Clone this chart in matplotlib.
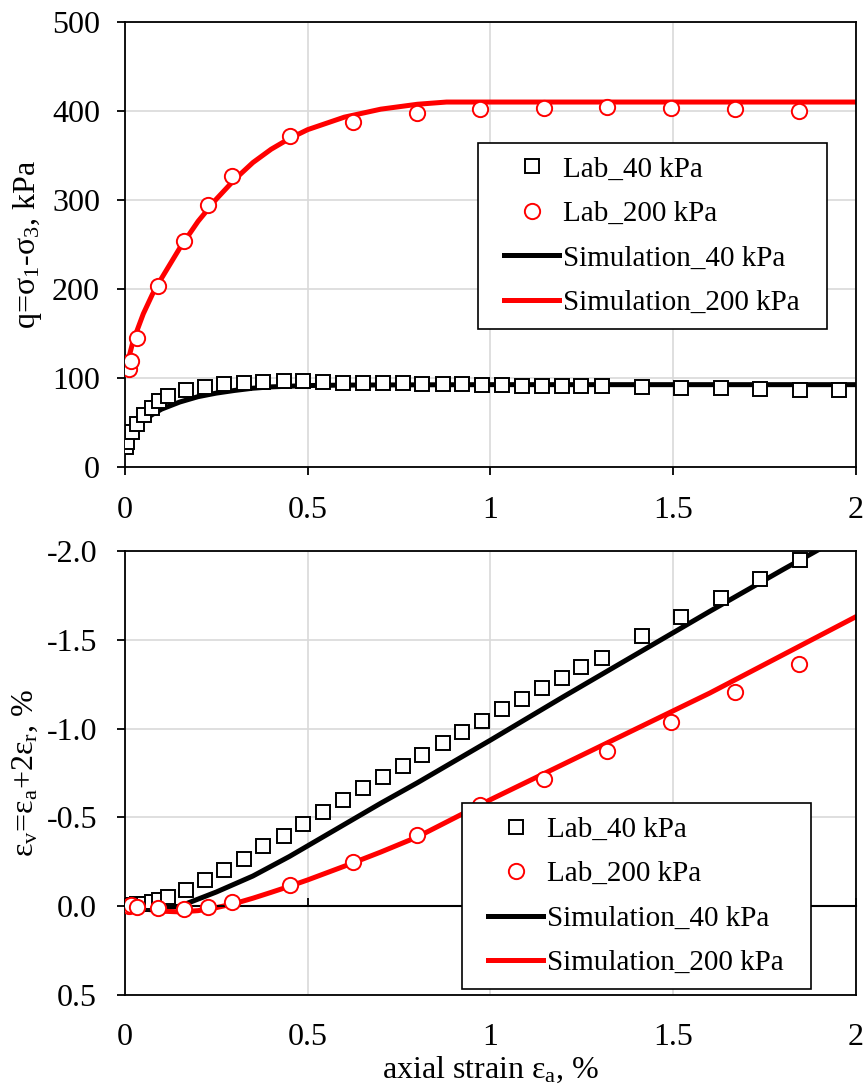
# Triaxial test: deviator stress and volumetric strain vs axial strain, lab vs simulation

import matplotlib
matplotlib.use('Agg')
import matplotlib.pyplot as plt
from matplotlib.lines import Line2D
from matplotlib.legend_handler import HandlerLine2D

plt.rcParams['font.family'] = ['Liberation Serif', 'DejaVu Serif']
plt.rcParams['mathtext.fontset'] = 'custom'
plt.rcParams['mathtext.rm'] = 'Liberation Serif'
plt.rcParams['mathtext.it'] = 'Liberation Serif:italic'
plt.rcParams['axes.unicode_minus'] = False

# ---- lab data, 40 kPa confining ----
eps_lab40 = [0.003, 0.005, 0.018, 0.032, 0.052, 0.074, 0.094, 0.117, 0.168, 0.218,
             0.272, 0.326, 0.379, 0.434, 0.488, 0.542, 0.597, 0.651, 0.705, 0.760,
             0.814, 0.869, 0.923, 0.977, 1.032, 1.086, 1.140, 1.195, 1.249, 1.304,
             1.414, 1.521, 1.630, 1.738, 1.847, 1.955]
q_lab40 = [22, 28, 39, 48.5, 58, 66.7, 74, 79.4, 86, 90,
           93, 94.8, 95.5, 96.3, 96.6, 95, 94.4, 94.4, 94.4, 94.4,
           93.6, 92.9, 92.9, 92.5, 91.8, 91, 91, 90.6, 90.6, 90.6,
           89.9, 89.1, 88.4, 87.6, 86.9, 86.1]
ev_lab40 = [0.0, 0.0, -0.005, -0.01, -0.015, -0.022, -0.034, -0.052, -0.092, -0.146,
            -0.205, -0.267, -0.337, -0.397, -0.465, -0.53, -0.6, -0.665, -0.727, -0.79,
            -0.852, -0.921, -0.983, -1.045, -1.109, -1.167, -1.228, -1.283, -1.345, -1.40,
            -1.52, -1.631, -1.738, -1.843, -1.948]

# ---- lab data, 200 kPa confining ----
eps_lab200 = [0.012, 0.016, 0.032, 0.091, 0.161, 0.227, 0.294, 0.451, 0.625, 0.80,
              0.971, 1.146, 1.32, 1.495, 1.67, 1.845]
q_lab200 = [110, 119, 144.5, 203.8, 253.6, 294, 327, 371.7, 387.6, 397.8,
            402, 403, 404.5, 403, 402, 400]
ev_lab200 = [0.0, -0.005, 0.005, 0.012, 0.015, 0.003, -0.026, -0.12, -0.25, -0.403,
             -0.571, -0.715, -0.876, -1.039, -1.204, -1.363]

# ---- simulation curves ----
eps_sim40_q = [0.005, 0.01, 0.02, 0.03, 0.05, 0.075, 0.1, 0.15, 0.2, 0.25,
               0.3, 0.35, 0.4, 0.5, 0.6, 0.8, 1.0, 2.0]
q_sim40 = [30, 35, 41, 45, 52, 59, 65, 73, 79, 83,
           86, 88.5, 90, 91.5, 92, 92.3, 92.5, 92.5]

eps_sim200_q = [0.005, 0.01, 0.02, 0.03, 0.05, 0.075, 0.1, 0.15, 0.2, 0.25,
                0.3, 0.35, 0.4, 0.45, 0.5, 0.6, 0.7, 0.8, 0.88, 2.0]
q_sim200 = [112, 122, 138, 150, 172, 194, 212, 246, 276, 301,
            323, 342, 357, 369, 379, 393, 402, 407.5, 410, 410]

eps_sim40_v = [0.0, 0.05, 0.1, 0.15, 0.2, 0.25, 0.3, 0.35, 0.4, 0.45,
               0.5, 0.6, 0.7, 0.8, 0.9, 1.0, 1.2, 1.4, 1.6, 1.8, 1.9]
ev_sim40 = [0.0, 0.005, 0.01, 0.0, -0.04, -0.08, -0.125, -0.17, -0.225, -0.28,
            -0.34, -0.46, -0.58, -0.695, -0.815, -0.935, -1.18, -1.42, -1.66, -1.895, -2.01]

eps_sim200_v = [0.0, 0.05, 0.1, 0.15, 0.2, 0.25, 0.3, 0.35, 0.4, 0.45,
                0.5, 0.6, 0.7, 0.8, 0.9, 1.0, 1.2, 1.4, 1.6, 1.8, 2.0]
ev_sim200 = [0.0, 0.015, 0.028, 0.032, 0.025, 0.008, -0.015, -0.045, -0.078, -0.112,
             -0.148, -0.225, -0.305, -0.39, -0.495, -0.6, -0.8, -1.0, -1.2, -1.415, -1.63]

x_ticks = [0, 0.5, 1, 1.5, 2]
x_ticklabels = ['0', '0.5', '1', '1.5', '2']
q_ticks = [0, 100, 200, 300, 400, 500]
ev_ticks = [-2.0, -1.5, -1.0, -0.5, 0.0, 0.5]
ev_ticklabels = ['-2.0', '-1.5', '-1.0', '-0.5', '0.0', '0.5']

FS = 23
LEG_FS = 21
grid_col = '#d9d9d9'


class ShiftedLine(HandlerLine2D):
    # legend handle drawn with an extra gap on its left side
    def get_xdata(self, legend, xdescent, ydescent, width, height, fontsize):
        gap = 0.45 * fontsize
        x0 = -xdescent + gap
        x1 = -xdescent + width
        return [x0, x1], [0.5 * (x0 + x1)]


def style_axes(ax):
    ax.grid(True, color=grid_col, linewidth=1.2)
    ax.set_axisbelow(True)
    for s in ax.spines.values():
        s.set_color('black')
        s.set_linewidth(1.3)


def add_legend(ax, anchor):
    h, l = ax.get_legend_handles_labels()
    order = [2, 3, 0, 1]
    leg = ax.legend([h[i] for i in order], [l[i] + '  ' for i in order],
                    loc='upper left', bbox_to_anchor=anchor, borderaxespad=0,
                    fontsize=LEG_FS, fancybox=False, framealpha=1, edgecolor='black',
                    handlelength=2.34, handletextpad=0.12, labelspacing=0.62,
                    borderpad=0.45, handler_map={Line2D: ShiftedLine()})
    leg.get_frame().set_linewidth(1.2)
    return leg


fig = plt.figure(figsize=(8.68, 10.86), dpi=100)
ax1 = fig.add_axes([0.144, 0.570, 0.842, 0.4098])
ax2 = fig.add_axes([0.144, 0.0838, 0.842, 0.4088])

# ---------------- top panel ----------------
style_axes(ax1)
ax1.plot(eps_sim40_q, q_sim40, color='black', lw=3.6, zorder=2, label='Simulation_40 kPa')
ax1.plot(eps_sim200_q, q_sim200, color='red', lw=3.6, zorder=2, label='Simulation_200 kPa')
ax1.plot(eps_lab40, q_lab40, ls='none', marker='s', ms=9.5, mfc='white', mec='black',
         mew=1.4, zorder=3, label='Lab_40 kPa')
ax1.plot(eps_lab200, q_lab200, ls='none', marker='o', ms=11, mfc='white', mec='red',
         mew=1.4, zorder=3, label='Lab_200 kPa')
ax1.set_xlim(0, 2)
ax1.set_ylim(0, 500)
ax1.set_xticks(x_ticks)
ax1.set_xticklabels(x_ticklabels)
ax1.set_yticks(q_ticks)
ax1.tick_params(axis='x', direction='out', length=6, width=1.3, pad=15, labelsize=FS)
ax1.tick_params(axis='y', direction='out', length=6, width=1.3, pad=12, labelsize=FS)
ax1.set_ylabel(r'q=$\mathregular{\sigma_1}$-$\mathregular{\sigma_3}$, kPa', fontsize=FS, labelpad=6)
add_legend(ax1, (0.483, 0.728))

# ---------------- bottom panel ----------------
style_axes(ax2)
ax2.plot(eps_sim40_v, ev_sim40, color='black', lw=3.6, zorder=2, label='Simulation_40 kPa')
ax2.plot(eps_sim200_v, ev_sim200, color='red', lw=3.6, zorder=2, label='Simulation_200 kPa')
ax2.plot(eps_lab40[:len(ev_lab40)], ev_lab40, ls='none', marker='s', ms=9.5, mfc='white',
         mec='black', mew=1.4, zorder=3, label='Lab_40 kPa')
ax2.plot(eps_lab200, ev_lab200, ls='none', marker='o', ms=11, mfc='white', mec='red',
         mew=1.4, zorder=3, label='Lab_200 kPa')
ax2.set_xlim(0, 2)
ax2.set_ylim(0.5, -2.0)
ax2.set_xticks(x_ticks)
ax2.set_xticklabels(x_ticklabels)
ax2.set_yticks(ev_ticks)
ax2.set_yticklabels(ev_ticklabels)
ax2.tick_params(axis='x', length=0, pad=20, labelsize=FS)
ax2.tick_params(axis='y', direction='out', length=6, width=1.3, pad=14, labelsize=FS)
ax2.set_ylabel(r'$\mathregular{\varepsilon_v}$=$\mathregular{\varepsilon_a}$+2$\mathregular{\varepsilon_r}$, %',
               fontsize=FS, labelpad=5)
ax2.set_xlabel(r'axial strain $\mathregular{\varepsilon_a}$, %', fontsize=FS, labelpad=2)

# horizontal axis line at zero volumetric strain, ticks pointing up
y0, y1 = ax2.get_ylim()
zero_frac = (0 - y0) / (y1 - y0)
sec = ax2.secondary_xaxis(zero_frac)
sec.set_zorder(2.5)
sec.set_xticks(x_ticks)
sec.tick_params(direction='in', length=6, width=1.3, labelbottom=False, labeltop=False)
sec.spines['bottom'].set_linewidth(1.5)
sec.spines['bottom'].set_color('black')

add_legend(ax2, (0.461, 0.432))

fig.savefig('out.png', dpi=100)
